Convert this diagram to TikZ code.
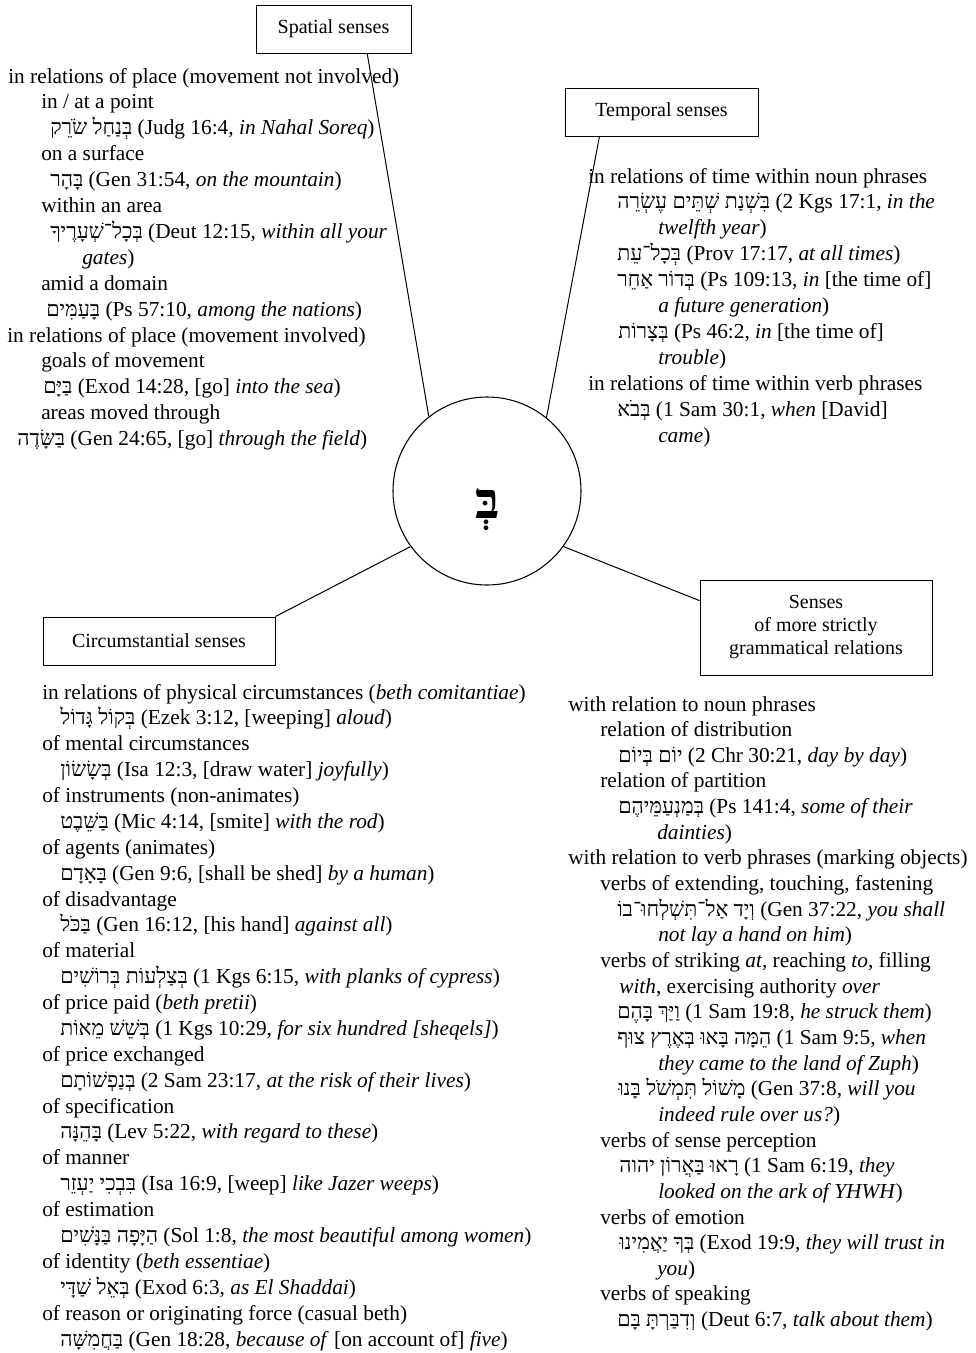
\documentclass[tikz,border=0pt]{standalone}
\usepackage{fontspec}
\setmainfont{Liberation Serif}
\newfontfamily\hebfont[Script=Hebrew]{Liberation Serif}
\TeXXeTstate=1
\newcommand{\hebword}[1]{{\hebfont\beginR #1\endR}}
\usetikzlibrary{calc,positioning}

\tikzset{
  sensebox/.style={draw, line width=0.75pt, align=center, inner sep=0pt,
    font=\fontsize{15}{17.25}\selectfont},
  entry/.style={anchor=base west, inner sep=0pt, font=\fontsize{16}{19}\selectfont},
  link/.style={line width=0.75pt},
}

\begin{document}
\begin{tikzpicture}[x=0.75pt,y=-0.75pt]
\useasboundingbox (0,0) rectangle (975,1353);

% centre
\node[draw, circle, line width=0.8pt, minimum size=141pt, inner sep=0pt] (beth) at (487,491) {};
\node[inner sep=0pt, font=\fontsize{38}{38}\selectfont\bfseries] (letter) at (488,510) {\hebword{בְּ}};

% the four boxes
\node[sensebox, minimum width=116.25pt, minimum height=36pt] (spatial) at (333.5,29) {Spatial senses};
\node[sensebox, minimum width=144.75pt, minimum height=36pt] (temporal) at (661.5,112) {Temporal senses};
\node[sensebox, minimum width=174pt, minimum height=36pt] (circum) at (159,641) {Circumstantial senses};
\node[sensebox, minimum width=174pt, minimum height=71.25pt] (gramm) at (816,627.5)
  {Senses\\of more strictly\\grammatical relations};

\draw[link] ($(spatial.south west)!0.716!(spatial.south east)$) -- (beth.128);
\draw[link] ($(temporal.south west)!0.18!(temporal.south east)$) -- (beth.51.5);
\draw[link] (circum.north east) -- (beth.216.5);
\draw[link] ($(gramm.north west)!0.22!(gramm.south west)$) -- (beth.324);

% spatial senses
\foreach \x/\t [count=\i from 0] in {
  8/{in relations of place (movement not involved)},
  41/{in / at a point},
  50/{\hebword{בְּנַחַל שֹׂרֵק} (Judg 16:4, \textit{in Nahal Soreq})},
  41/{on a surface},
  50/{\hebword{בָּהָר} (Gen 31:54, \textit{on the mountain})},
  41/{within an area},
  50/{\hebword{בְּכָל־שְׁעָרֶיךָ} (Deut 12:15, \textit{within all your}},
  82/{\textit{gates})},
  41/{amid a domain},
  46/{\hebword{בָּעַמִּים} (Ps 57:10, \textit{among the nations})},
  7/{in relations of place (movement involved)},
  41/{goals of movement},
  43/{\hebword{בַּיָּם} (Exod 14:28, [go] \textit{into the sea})},
  41/{areas moved through},
  17/{\hebword{בַּשָּׂדֶה} (Gen 24:65, [go] \textit{through the field})}
}
  \node[entry] (sp\i) at (\x, {83+25.9*\i}) {\t};

% temporal senses
\foreach \x/\t [count=\i from 0] in {
  588/{in relations of time within noun phrases},
  617/{\hebword{בִּשְׁנַת שְׁתֵּים עֶשְׂרֵה} (2 Kgs 17:1, \textit{in the}},
  658/{\textit{twelfth year})},
  617/{\hebword{בְּכָל־עֵת} (Prov 17:17, \textit{at all times})},
  617/{\hebword{בְּדוֹר אַחֵר} (Ps 109:13, \textit{in} [the time of]},
  658/{\textit{a future generation})},
  618/{\hebword{בְּצָרוֹת} (Ps 46:2, \textit{in} [the time of]},
  658/{\textit{trouble})},
  588/{in relations of time within verb phrases},
  617/{\hebword{בְּבֹא} (1 Sam 30:1, \textit{when} [David]},
  658/{\textit{came})}
}
  \node[entry] (tp\i) at (\x, {183+25.9*\i}) {\t};

% circumstantial senses
\foreach \x/\t [count=\i from 0] in {
  42/{in relations of physical circumstances (\textit{beth comitantiae})},
  60/{\hebword{בְּקוֹל גָּדוֹל} (Ezek 3:12, [weeping] \textit{aloud})},
  42/{of mental circumstances},
  60/{\hebword{בְּשָׂשׂוֹן} (Isa 12:3, [draw water] \textit{joyfully})},
  42/{of instruments (non-animates)},
  60/{\hebword{בַּשֵּׁבֶט} (Mic 4:14, [smite] \textit{with the rod})},
  42/{of agents (animates)},
  60/{\hebword{בָּאָדָם} (Gen 9:6, [shall be shed] \textit{by a human})},
  42/{of disadvantage},
  60/{\hebword{בַּכֹּל} (Gen 16:12, [his hand] \textit{against all})},
  42/{of material},
  60/{\hebword{בְּצַלְעוֹת בְּרוֹשִׁים} (1 Kgs 6:15, \textit{with planks of cypress})},
  42/{of price paid (\textit{beth pretii})},
  60/{\hebword{בְּשֵׁשׁ מֵאוֹת} (1 Kgs 10:29, \textit{for six hundred [sheqels]})},
  42/{of price exchanged},
  60/{\hebword{בְּנַפְשׁוֹתָם} (2 Sam 23:17, \textit{at the risk of their lives})},
  42/{of specification},
  60/{\hebword{בָּהֵנָּה} (Lev 5:22, \textit{with regard to these})},
  42/{of manner},
  60/{\hebword{בִּבְכִי יַעְזֵר} (Isa 16:9, [weep] \textit{like Jazer weeps})},
  42/{of estimation},
  60/{\hebword{הַיָּפָה בַּנָּשִׁים} (Sol 1:8, \textit{the most beautiful among women})},
  42/{of identity (\textit{beth essentiae})},
  60/{\hebword{בְּאֵל שַׁדָּי} (Exod 6:3, \textit{as El Shaddai})},
  42/{of reason or originating force (casual beth)},
  60/{\hebword{בַּחֲמִשָּׁה} (Gen 18:28, \textit{because of} [on account of] \textit{five})}
}
  \node[entry] (cs\i) at (\x, {699+25.88*\i}) {\t};

% grammatical relations
\foreach \x/\t [count=\i from 0] in {
  568/{with relation to noun phrases},
  600/{relation of distribution},
  618/{\hebword{יוֹם בְּיוֹם} (2 Chr 30:21, \textit{day by day})},
  600/{relation of partition},
  618/{\hebword{בְּמַנְעַמֵּיהֶם} (Ps 141:4, \textit{some of their}},
  657/{\textit{dainties})},
  568/{with relation to verb phrases (marking objects)},
  600/{verbs of extending, touching, fastening},
  617/{\hebword{וְיָד אַל־תִּשְׁלְחוּ־בוֹ} (Gen 37:22, \textit{you shall}},
  658/{\textit{not lay a hand on him})},
  600/{verbs of striking \textit{at}, reaching \textit{to}, filling},
  619/{\textit{with}, exercising authority \textit{over}},
  617/{\hebword{וַיַּךְ בָּהֶם} (1 Sam 19:8, \textit{he struck them})},
  617/{\hebword{הֵמָּה בָּאוּ בְּאֶרֶץ צוּף} (1 Sam 9:5, \textit{when}},
  658/{\textit{they came to the land of Zuph})},
  618/{\hebword{מָשׁוֹל תִּמְשֹׁל בָּנוּ} (Gen 37:8, \textit{will you}},
  658/{\textit{indeed rule over us?})},
  600/{verbs of sense perception},
  619/{\hebword{רָאוּ בַּאֲרוֹן יהוה} (1 Sam 6:19, \textit{they}},
  658/{\textit{looked on the ark of YHWH})},
  600/{verbs of emotion},
  619/{\hebword{בְּךָ יַאֲמִינוּ} (Exod 19:9, \textit{they will trust in}},
  657/{\textit{you})},
  600/{verbs of speaking},
  617/{\hebword{וְדִבַּרְתָּ בָּם} (Deut 6:7, \textit{talk about them})}
}
  \node[entry] (gr\i) at (\x, {711+25.65*\i}) {\t};
\end{tikzpicture}
\end{document}
